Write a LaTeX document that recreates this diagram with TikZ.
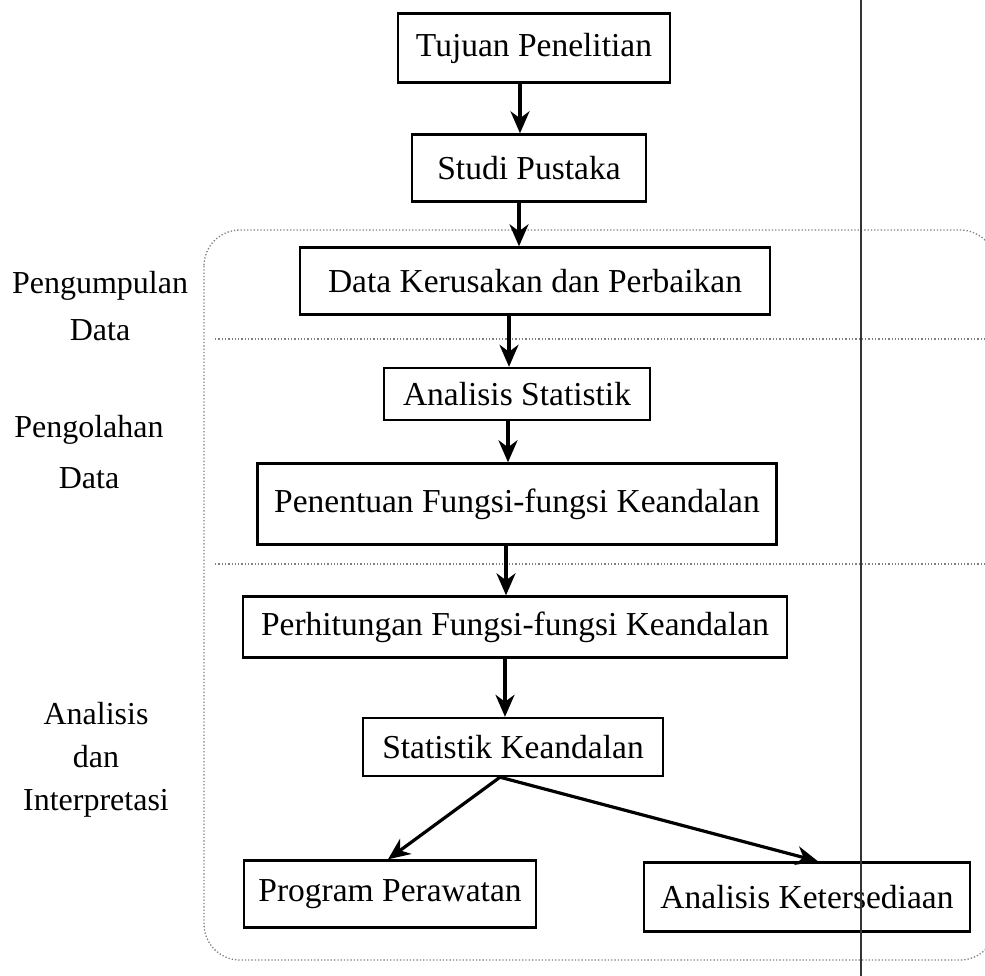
\documentclass[tikz,border=0pt]{standalone}
\usepackage{fontspec}
\setmainfont{Liberation Serif}
\usetikzlibrary{positioning,arrows.meta,calc}
\tikzset{
  stepbox/.style={draw=black, line width=2.4pt, inner sep=0pt, font=\fontsize{33.5}{40}\selectfont},
  flow/.style={line width=3.2pt, -{Stealth[length=22pt,width=19pt,inset=7pt]}},
  region/.style={draw=black!50, line width=1.3pt, dotted},
  phase/.style={align=center, font=\fontsize{32}{47}\selectfont}
}

\begin{document}
\begin{tikzpicture}[x=1pt,y=-1pt]
    \clip (0,0) rectangle (985,976);
    \fill[white] (0,0) rectangle (985,976);

    % phase frame and separators
    \draw[region, rounded corners=36pt] (204,230) rectangle (996,960);
    \draw[region] (215,339) -- (985,339);
    \draw[region] (215,564) -- (985,564);

    % phase labels
    \node[phase] (kumpul) at (100,306) {Pengumpulan\\Data};
    \node[phase, font=\fontsize{32}{51}\selectfont] (olah) at (89,452) {Pengolahan\\Data};
    \node[phase, font=\fontsize{32}{43}\selectfont] (analisa) at (96,760) {Analisis\\dan\\Interpretasi};

    % steps
    \node[stepbox, minimum width=272, minimum height=69] (tujuan)  at (534,48)  {Tujuan Penelitian};
    \node[stepbox, minimum width=234, minimum height=67] (pustaka) at (529,168) {Studi Pustaka};
    \node[stepbox, minimum width=470, minimum height=67] (data)    at (535,281) {Data Kerusakan dan Perbaikan};
    \node[stepbox, minimum width=266, minimum height=52] (stat)    at (517,394) {Analisis Statistik};
    \node[stepbox, minimum width=519, minimum height=81] (tentu)   at (517,504) {Penentuan Fungsi-fungsi Keandalan};
    \node[stepbox, minimum width=544, minimum height=61] (hitung)  at (515,627) {Perhitungan Fungsi-fungsi Keandalan};
    \node[stepbox, minimum width=300, minimum height=58] (andal)   at (513,747) {Statistik Keandalan};
    \node[stepbox, minimum width=292, minimum height=67] (rawat)   at (390,894) {Program Perawatan};
    \node[stepbox, minimum width=326, minimum height=69] (sedia)   at (807,897) {Analisis Ketersediaan};

    % flow
    \draw[flow] (tujuan.south -| 520,0) -- (pustaka.north -| 520,0);
    \draw[flow] (pustaka.south -| 519,0) -- (data.north -| 519,0);
    \draw[flow] (data.south -| 509,0) -- (stat.north -| 509,0);
    \draw[flow] (stat.south -| 508,0) -- (tentu.north -| 508,0);
    \draw[flow] (tentu.south -| 506,0) -- (hitung.north -| 506,0);
    \draw[flow] (hitung.south -| 505,0) -- (andal.north -| 505,0);
    \draw[flow] ($(andal.south)+(-13,0)$) -- ($(rawat.north)+(-2,0)$);
    \draw[flow] ($(andal.south)+(-13,0)$) -- ($(sedia.north)+(11,0)$);

    % scan line
    \draw[black!80, line width=2.8pt] (861,0) -- (861,976);
\end{tikzpicture}
\end{document}
